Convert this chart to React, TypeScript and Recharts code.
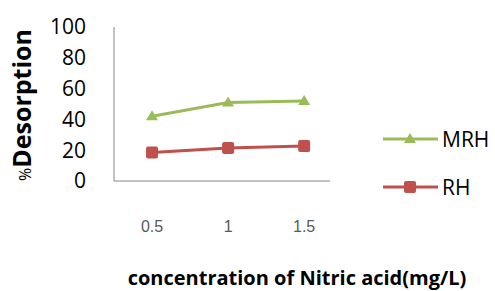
import { LineChart, Line, XAxis, YAxis, Label } from 'recharts';

const concentrations = [0.5, 1, 1.5];
const mrhValues = [42, 51, 52];
const rhValues = [18.5, 21.5, 22.8];
const yTicks = [0, 20, 40, 60, 80, 100];
const seriesNames = ['MRH', 'RH'];

const GREEN = '#9BBB59';
const RED = '#C0504D';

const chartData = concentrations.map((c, i) => ({ c, MRH: mrhValues[i], RH: rhValues[i] }));

const Triangle = (props: any) => {
  const { cx, cy, fill } = props;
  if (cx == null || cy == null) return null;
  return <path d={`M${cx},${cy - 6} L${cx + 6},${cy + 4} L${cx - 6},${cy + 4} Z`} fill={fill} />;
};

const Square = (props: any) => {
  const { cx, cy, fill } = props;
  if (cx == null || cy == null) return null;
  return <rect x={cx - 6} y={cy - 6} width={12} height={12} rx={2} fill={fill} />;
};

const ChartLegend = () => {
  const colors = [GREEN, RED];
  return (
    <div style={{ position: 'absolute', left: 382, top: 115 }}>
      {seriesNames.map((name, i) => (
        <div key={name} style={{ display: 'flex', alignItems: 'center', height: 48 }}>
          <svg width={58} height={16}>
            <line x1={1} y1={8} x2={56} y2={8} stroke={colors[i]} strokeWidth={3} />
            {i === 0 ? (
              <path d="M28,2 L34,12 L22,12 Z" fill={colors[i]} />
            ) : (
              <rect x={22} y={2} width={12} height={12} rx={2} fill={colors[i]} />
            )}
          </svg>
          <span style={{ fontFamily: 'Open Sans', fontSize: 21, color: '#000', marginLeft: 2, lineHeight: '24px' }}>
            {name}
          </span>
        </div>
      ))}
    </div>
  );
};

const YTitle = () => (
  <text x={0} y={0} transform="translate(31, 105) rotate(-90)" textAnchor="middle" fill="#000" fontFamily="Open Sans">
    <tspan fontSize={16}>%</tspan>
    <tspan fontSize={25} fontWeight="bold">Desorption</tspan>
  </text>
);

export default function App() {
  return (
    <div style={{ position: 'absolute', left: 0, top: 0, width: 495, height: 291, background: '#fff' }}>
      <LineChart width={495} height={291} data={chartData} margin={{ top: 27, right: 165, left: 0, bottom: 0 }}>
        <XAxis
          dataKey="c"
          type="number"
          domain={[0.25, 1.67]}
          ticks={concentrations}
          tickLine={false}
          axisLine={{ stroke: '#868686', strokeWidth: 1 }}
          height={110}
          tick={{ fill: '#595959', fontSize: 16, fontFamily: 'Liberation Sans', dy: 32 }}
        >
          <Label
            value="concentration of Nitric acid(mg/L)"
            position="insideBottom"
            offset={6}
            style={{ fontFamily: 'Open Sans', fontSize: 20, fontWeight: 'bold', fill: '#000' }}
            dx={75}
          />
        </XAxis>
        <YAxis
          domain={[0, 100]}
          ticks={yTicks}
          interval={0}
          width={114}
          tickLine={false}
          axisLine={{ stroke: '#868686', strokeWidth: 1 }}
          tickMargin={22}
          tick={{ fill: '#000', fontSize: 21, fontFamily: 'Open Sans' }}
        >
          <Label content={<YTitle />} />
        </YAxis>
        <Line
          dataKey="MRH"
          stroke={GREEN}
          strokeWidth={3}
          dot={<Triangle fill={GREEN} />}
          isAnimationActive={false}
        />
        <Line dataKey="RH" stroke={RED} strokeWidth={3} dot={<Square fill={RED} />} isAnimationActive={false} />
      </LineChart>
      <ChartLegend />
    </div>
  );
}
